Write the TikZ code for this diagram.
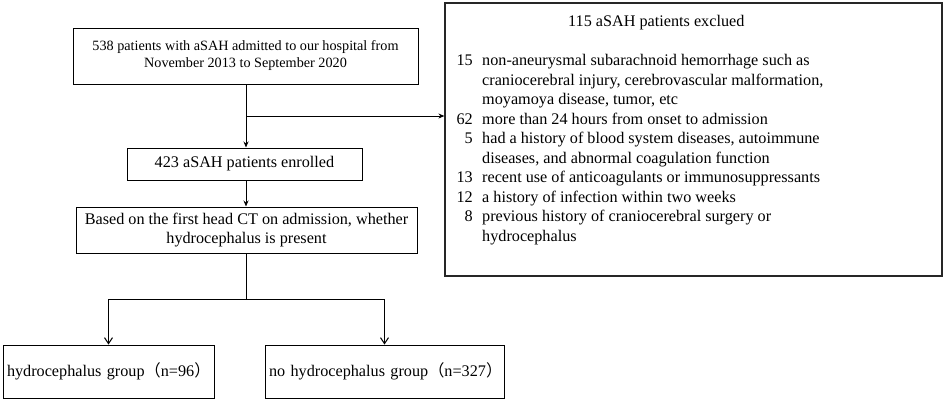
\documentclass[tikz,border=0pt]{standalone}
\usepackage{fontspec}
\setmainfont{Liberation Serif}
\newfontfamily\cjk{Noto Sans CJK SC}
\usetikzlibrary{arrows.meta}
\tikzset{
  box/.style={draw=black, line width=1pt, inner sep=0pt, align=center},
  bigfont/.style={font=\fontsize{16.2}{19.5}\selectfont},
  smallfont/.style={font=\fontsize{14.2}{17}\selectfont},
  fillarrow/.style={line width=1pt, -{Stealth[length=6pt,width=5pt]}},
  openarrow/.style={line width=1pt, -{Straight Barb[length=6pt,width=8pt]}},
  plainline/.style={line width=1pt},
  itemtext/.style={bigfont, inner sep=0pt, anchor=base west},
  itemnum/.style={bigfont, inner sep=0pt, anchor=base east}
}
\begin{document}
\begin{tikzpicture}[x=1pt,y=-1pt]
\fill[white] (0,0) rectangle (944,400);
\useasboundingbox (0,0) rectangle (944,400);

\node[box, smallfont, minimum width=345pt, minimum height=56pt] (b1) at (245.5,56)
  {538 patients with aSAH admitted to our hospital from\\November 2013 to September 2020};
\node[box, bigfont, minimum width=235pt, minimum height=32pt] (b2) at (244.5,164)
  {423 aSAH patients enrolled};
\node[box, bigfont, minimum width=341pt, minimum height=46pt] (b3) at (246.5,230)
  {Based on the first head CT on admission, whether\\hydrocephalus is present};
\node[box, bigfont, text width=203pt, inner xsep=4pt, align=left, minimum height=53pt] (b4) at (108.5,371.5)
  {\mbox{hydrocephalus group{\cjk （}n=96{\cjk ）}}};
\node[box, bigfont, text width=231pt, inner xsep=4pt, align=left, minimum height=53pt] (b5) at (384.5,371.5)
  {\mbox{no hydrocephalus group{\cjk （}n=327{\cjk ）}}};
\node[box, draw=black!85, line width=1.2pt, minimum width=497pt, minimum height=273pt] (ex) at (693.5,139.5) {};

\node[itemtext] (title) at (568,26) {115 aSAH patients exclued};
\node[itemnum] (n0) at (473,65.5) {15};
\node[itemnum] (n3) at (473,124) {62};
\node[itemnum] (n4) at (473,143.5) {5};
\node[itemnum] (n6) at (473,182.5) {13};
\node[itemnum] (n7) at (473,202) {12};
\node[itemnum] (n8) at (473,221.5) {8};
\node[itemtext] (t0) at (482,65.5) {non-aneurysmal subarachnoid hemorrhage such as};
\node[itemtext] (t1) at (482,85) {craniocerebral injury, cerebrovascular malformation,};
\node[itemtext] (t2) at (482,104.5) {moyamoya disease, tumor, etc};
\node[itemtext] (t3) at (482,124) {more than 24 hours from onset to admission};
\node[itemtext] (t4) at (482,143.5) {had a history of blood system diseases, autoimmune};
\node[itemtext] (t5) at (482,163) {diseases, and abnormal coagulation function};
\node[itemtext] (t6) at (482,182.5) {recent use of anticoagulants or immunosuppressants};
\node[itemtext] (t7) at (482,202) {a history of infection within two weeks};
\node[itemtext] (t8) at (482,221.5) {previous history of craniocerebral surgery or};
\node[itemtext] (t9) at (482,241) {hydrocephalus};

\coordinate (br) at (246,116);
\coordinate (sp) at (246,299);
\draw[fillarrow] (b1.south -| br) -- (b2.north -| br);
\draw[fillarrow] (br) -- (br -| ex.west);
\draw[fillarrow] (b2.south -| br) -- (b3.north -| br);
\draw[plainline] (b3.south -| sp) -- (sp);
\draw[plainline] (sp -| b4.north) -- (sp -| b5.north);
\draw[openarrow] (sp -| b4.north) -- (b4.north);
\draw[openarrow] (sp -| b5.north) -- (b5.north);
\end{tikzpicture}
\end{document}
